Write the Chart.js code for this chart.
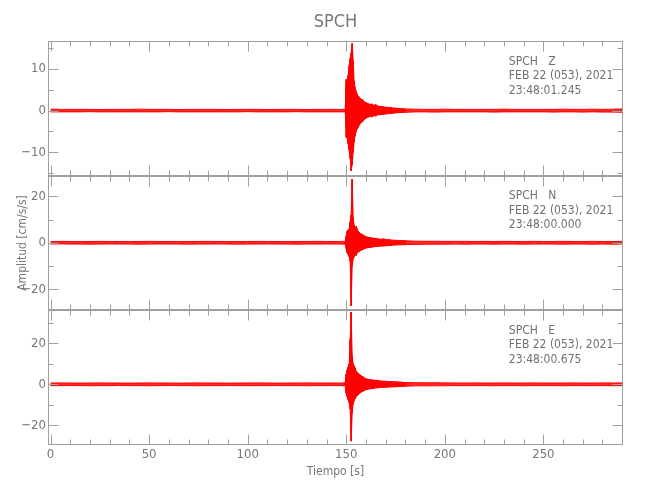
<!DOCTYPE html>
<html>
<head>
<meta charset="utf-8">
<script src="https://cdn.jsdelivr.net/npm/chart.js@4.4.1/dist/chart.umd.min.js"></script>
<style>
  html, body { margin: 0; padding: 0; background: #fff; }
</style>
</head>
<body>
<canvas id="sismo" width="650" height="500"></canvas>
<script>
// tiempo de muestreo (s) de las envolventes leídas
const tiempo = [0,5,10,15,20,25,30,35,40,45,50,55,60,65,70,75,80,85,90,95,100,105,110,115,120,125,130,135,140,145,
  146,147,148,149,149.5,
  150,150.5,151,151.5,152,152.5,153,153.5,154,154.5,155,155.5,156,156.5,157,157.5,158,158.5,159,159.5,160,
  161,162,163,164,165,166,167,168,169,170,171,172,173,174,175,176,177,178,179,180,
  185,190,195,200,205,210,215,220,225,230,235,240,245,250,255,260,265,270,275,280,285,290];

// envolvente superior / inferior de cada componente (cm/s/s)
const zArriba = [0.35,0.3,0.3,0.3,0.3,0.25,0.3,0.3,0.3,0.35,0.3,0.3,0.3,0.25,0.3,0.3,0.3,0.3,0.25,0.3,0.3,0.3,0.25,0.3,0.3,0.3,0.25,0.3,0.3,0.3,
  0.3,0.3,0.3,0.3,0.35,
  7.5,7.3,8.5,10.8,12.5,13.8,16.1,12.0,7.0,5.5,4.6,4.0,3.5,3.3,3.0,2.8,2.6,2.4,2.2,2.0,1.9,
  1.7,1.5,1.6,1.3,1.4,1.1,1.0,1.0,0.9,0.8,0.8,0.7,0.75,0.6,0.6,0.55,0.5,0.45,0.45,0.4,
  0.35,0.3,0.3,0.35,0.3,0.3,0.3,0.3,0.3,0.35,0.3,0.3,0.3,0.3,0.3,0.35,0.3,0.3,0.35,0.3,0.35,0.4];
const zAbajo = [-0.3,-0.3,-0.3,-0.3,-0.25,-0.3,-0.3,-0.3,-0.3,-0.3,-0.3,-0.3,-0.25,-0.3,-0.3,-0.3,-0.3,-0.3,-0.3,-0.3,-0.25,-0.3,-0.3,-0.3,-0.3,-0.25,-0.3,-0.3,-0.3,-0.3,
  -0.3,-0.3,-0.3,-0.3,-0.3,
  -6.4,-6.6,-8.0,-9.5,-11.5,-14.4,-13.0,-10.0,-7.5,-6.0,-5.0,-4.4,-4.0,-3.5,-3.2,-2.9,-2.6,-2.4,-2.2,-2.0,-1.8,
  -1.6,-1.4,-1.5,-1.2,-1.3,-1.0,-1.0,-0.9,-0.9,-0.8,-0.75,-0.7,-0.7,-0.6,-0.55,-0.5,-0.45,-0.45,-0.4,-0.4,
  -0.3,-0.3,-0.35,-0.3,-0.3,-0.3,-0.3,-0.3,-0.35,-0.3,-0.3,-0.3,-0.3,-0.3,-0.35,-0.3,-0.3,-0.35,-0.3,-0.35,-0.35,-0.4];

const nArriba = [0.55,0.6,0.55,0.5,0.55,0.6,0.55,0.55,0.5,0.55,0.6,0.55,0.55,0.5,0.55,0.55,0.6,0.55,0.5,0.55,0.55,0.6,0.55,0.55,0.5,0.55,0.55,0.6,0.55,0.55,
  0.55,0.6,0.55,0.6,0.65,
  3.0,5.0,5.5,6.0,9.0,12.0,27.4,11.0,7.5,6.5,7.0,6.0,5.0,4.5,4.0,3.8,3.5,3.2,3.0,2.8,2.6,
  2.4,2.2,2.1,1.9,1.8,1.7,1.6,1.5,1.7,1.4,1.3,1.3,1.2,1.1,1.1,1.0,1.0,0.95,0.9,0.85,
  0.7,0.65,0.65,0.6,0.6,0.6,0.55,0.6,0.55,0.6,0.55,0.55,0.6,0.55,0.55,0.6,0.55,0.55,0.6,0.55,0.55,0.6];
const nAbajo = [-0.55,-0.5,-0.55,-0.55,-0.6,-0.55,-0.5,-0.55,-0.55,-0.6,-0.55,-0.5,-0.55,-0.55,-0.6,-0.55,-0.55,-0.5,-0.55,-0.6,-0.55,-0.55,-0.5,-0.55,-0.55,-0.6,-0.55,-0.55,-0.5,-0.55,
  -0.55,-0.55,-0.6,-0.55,-0.65,
  -2.5,-4.3,-5.0,-6.0,-8.0,-27.1,-10.0,-7.0,-6.0,-5.0,-5.5,-4.5,-4.0,-3.8,-3.5,-3.2,-3.0,-2.8,-2.6,-2.4,-2.3,
  -2.1,-2.0,-1.9,-1.7,-1.6,-1.5,-1.5,-1.4,-1.4,-1.3,-1.2,-1.2,-1.1,-1.0,-1.0,-0.95,-0.9,-0.9,-0.85,-0.8,
  -0.7,-0.65,-0.6,-0.6,-0.55,-0.6,-0.55,-0.55,-0.6,-0.55,-0.55,-0.6,-0.55,-0.55,-0.55,-0.6,-0.55,-0.55,-0.6,-0.55,-0.6,-0.55];

const eArriba = [0.65,0.7,0.65,0.6,0.65,0.7,0.65,0.65,0.6,0.65,0.7,0.65,0.65,0.6,0.65,0.7,0.65,0.65,0.6,0.65,0.65,0.7,0.65,0.6,0.65,0.65,0.7,0.65,0.65,0.65,
  0.65,0.7,0.65,0.75,0.85,
  5.0,7.0,8.5,10.0,22.0,35.2,14.0,10.0,9.0,8.0,6.5,6.0,5.5,5.0,4.6,4.2,3.8,3.5,3.2,3.0,2.7,
  2.5,2.3,2.2,2.0,1.9,1.8,1.7,1.6,1.6,1.5,1.4,1.4,1.3,1.3,1.2,1.2,1.1,1.1,1.0,0.9,
  0.8,0.75,0.75,0.7,0.7,0.65,0.7,0.65,0.65,0.7,0.65,0.65,0.7,0.65,0.65,0.65,0.7,0.65,0.65,0.7,0.65,0.7];
const eAbajo = [-0.65,-0.65,-0.6,-0.65,-0.7,-0.65,-0.65,-0.6,-0.65,-0.65,-0.7,-0.65,-0.6,-0.65,-0.65,-0.7,-0.65,-0.65,-0.6,-0.65,-0.7,-0.65,-0.65,-0.6,-0.65,-0.65,-0.7,-0.65,-0.65,-0.6,
  -0.65,-0.65,-0.7,-0.7,-0.8,
  -4.5,-6.0,-7.5,-9.0,-12.0,-27.7,-14.0,-9.5,-8.0,-7.0,-6.0,-5.5,-5.0,-4.6,-4.2,-3.8,-3.5,-3.2,-3.0,-2.8,-2.6,
  -2.4,-2.2,-2.1,-1.9,-1.8,-1.7,-1.6,-1.5,-1.5,-1.4,-1.4,-1.3,-1.3,-1.2,-1.2,-1.1,-1.1,-1.0,-1.0,-0.9,
  -0.75,-0.75,-0.7,-0.7,-0.65,-0.7,-0.65,-0.65,-0.7,-0.65,-0.65,-0.7,-0.65,-0.65,-0.65,-0.7,-0.65,-0.65,-0.7,-0.65,-0.7,-0.65];

const componentes = ['Z', 'N', 'E'];
const horas = ['23:48:01.245', '23:48:00.000', '23:48:00.675'];
const fecha = 'FEB 22 (053), 2021';
const estacion = 'SPCH';
const ventanaSismo = [149.5, 180];
const xTicks = [0, 50, 100, 150, 200, 250];
const yTicksZ = [-10, 0, 10];
const yTicksN = [-20, 0, 20];
const yTicksE = [-20, 0, 20];

const FUENTE = "'Liberation Sans Narrow', 'DejaVu Sans Condensed', 'Liberation Sans', sans-serif";
const GRIS_TEXTO = '#777777';
const GRIS_EJE = '#a0a0a0';
const ROJO = '#ff0000';

const paneles = [
  { id: 'yZ', arriba: zArriba, abajo: zAbajo, ticks: yTicksZ, min: -15.6, max: 16.7, peso: 3 },
  { id: 'yN', arriba: nArriba, abajo: nAbajo, ticks: yTicksN, min: -29.1, max: 28.9, peso: 2 },
  { id: 'yE', arriba: eArriba, abajo: eAbajo, ticks: yTicksE, min: -29.6, max: 36.1, peso: 1 }
];

function etiqueta(v) {
  return v < 0 ? '\u2212' + Math.abs(v) : String(v);
}

const datasets = [];
paneles.forEach(p => {
  // envolvente rellena (ruido y coda)
  datasets.push({
    data: tiempo.map((t, i) => ({ x: t, y: p.arriba[i] })),
    yAxisID: p.id, borderColor: ROJO, borderWidth: 1,
    backgroundColor: 'rgba(255,0,0,0.85)', fill: '+1'
  });
  datasets.push({
    data: tiempo.map((t, i) => ({ x: t, y: p.abajo[i] })),
    yAxisID: p.id, borderColor: ROJO, borderWidth: 1, fill: false
  });
  // oscilación dentro de la ventana del sismo
  const osc = [];
  tiempo.forEach((t, i) => {
    if (t >= ventanaSismo[0] && t <= ventanaSismo[1]) {
      osc.push({ x: t, y: p.arriba[i] }, { x: t, y: p.abajo[i] });
    }
  });
  datasets.push({
    data: osc, yAxisID: p.id, borderColor: ROJO, borderWidth: 1, fill: false
  });
});

const escalas = {
  x: {
    type: 'linear', min: -1.3, max: 290.4,
    afterBuildTicks: s => { s.ticks = xTicks.map(v => ({ value: v })); },
    afterFit: s => { s.height = 55; },
    grid: { display: false, drawTicks: false },
    border: { display: false },
    ticks: { color: GRIS_TEXTO, font: { family: FUENTE, size: 13 }, padding: 2, maxRotation: 0, autoSkip: false },
    title: { display: true, text: 'Tiempo [s]', color: GRIS_TEXTO, font: { family: FUENTE, size: 12 }, padding: { top: 0, bottom: 21 } }
  }
};
paneles.forEach(p => {
  escalas[p.id] = {
    type: 'linear', position: 'left', stack: 'sismo', stackWeight: 1, weight: p.peso,
    min: p.min, max: p.max,
    afterBuildTicks: s => { s.ticks = p.ticks.map(v => ({ value: v })); },
    afterFit: s => { s.width = 48; },
    grid: { display: false, drawTicks: false },
    border: { display: false },
    ticks: { color: GRIS_TEXTO, font: { family: FUENTE, size: 13 }, padding: 2, callback: v => etiqueta(v) },
    title: {
      display: p.id === 'yN', text: 'Amplitud [cm/s/s]', color: GRIS_TEXTO,
      font: { family: FUENTE, size: 12 }, padding: { top: 16, bottom: 0 }
    }
  };
});

// marcos de cada panel, marcas hacia dentro y rótulos de estación
const marcoPlugin = {
  id: 'marco',
  afterDatasetsDraw(chart) {
    const { ctx, chartArea: area, scales } = chart;
    const xs = scales.x;
    const left = Math.round(area.left) + 0.5;
    const right = Math.round(area.right) - 0.5;
    ctx.save();
    ctx.strokeStyle = GRIS_EJE;
    ctx.lineWidth = 1;
    paneles.forEach((p, k) => {
      const ys = scales[p.id];
      const top = Math.round(ys.top) + 0.5;
      const bottom = Math.round(ys.bottom) - 0.5;
      ctx.strokeRect(left, top, right - left, bottom - top);
      ctx.beginPath();
      for (let t = 0; t <= xs.max; t += 10) {
        const px = Math.round(xs.getPixelForValue(t)) + 0.5;
        const len = xTicks.includes(t) ? 10 : 5;
        ctx.moveTo(px, top); ctx.lineTo(px, top + len);
        ctx.moveTo(px, bottom); ctx.lineTo(px, bottom - len);
      }
      const paso = (p.ticks[1] - p.ticks[0]) / 2;
      for (let v = Math.ceil(ys.min / paso) * paso; v <= ys.max; v += paso) {
        const py = Math.round(ys.getPixelForValue(v)) + 0.5;
        const len = p.ticks.includes(v) ? 10 : 5;
        ctx.moveTo(left, py); ctx.lineTo(left + len, py);
        ctx.moveTo(right, py); ctx.lineTo(right - len, py);
      }
      ctx.stroke();

      ctx.fillStyle = '#707070';
      ctx.font = '12px ' + FUENTE;
      ctx.textAlign = 'left';
      ctx.textBaseline = 'middle';
      const tx = xs.getPixelForValue(232.5);
      ctx.fillText(estacion + '   ' + componentes[k], tx, ys.top + 20.5);
      ctx.fillText(fecha, tx, ys.top + 35);
      ctx.fillText(horas[k], tx, ys.top + 49.5);
    });
    ctx.restore();
  }
};

new Chart(document.getElementById('sismo'), {
  type: 'line',
  data: { datasets },
  options: {
    responsive: false,
    animation: false,
    devicePixelRatio: 1,
    layout: { padding: { top: 0, left: 0, right: 27, bottom: 0 } },
    elements: { point: { radius: 0 }, line: { tension: 0 } },
    scales: escalas,
    plugins: {
      legend: { display: false },
      tooltip: { enabled: false },
      title: {
        display: true, text: 'SPCH', color: GRIS_TEXTO, fullSize: false,
        font: { family: FUENTE, size: 18, weight: 'normal', lineHeight: 1 },
        padding: { top: 13, bottom: 10 }
      }
    }
  },
  plugins: [marcoPlugin]
});
</script>
</body>
</html>
